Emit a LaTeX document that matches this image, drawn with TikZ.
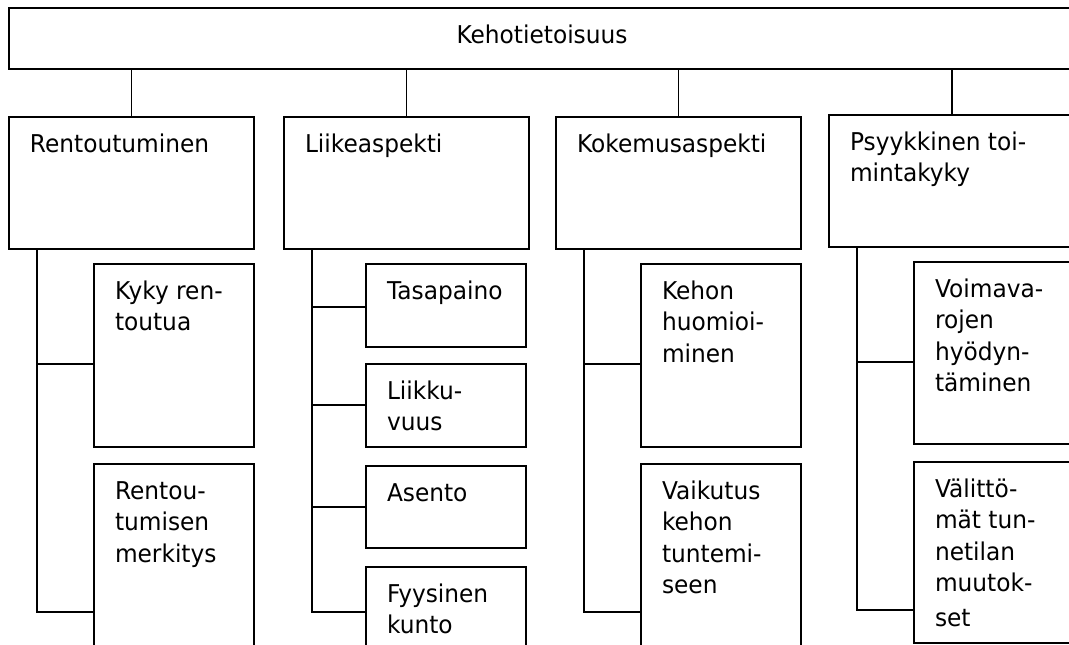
\documentclass[tikz,border=0pt]{standalone}
\usepackage{fontspec}
\setmainfont{DejaVu Sans}[FakeStretch=0.95]
\usetikzlibrary{calc}

% box content: width, height, text set top-left with a fixed first baseline
\newcommand\celltext[3]{\parbox[b][#2][t]{#1}{\raggedright\leftskip=21pt\rule{0pt}{35pt}#3}}
\newcommand\celltextc[3]{\parbox[b][#2][t]{#1}{\centering\rule{0pt}{35pt}#3}}

\tikzset{
  cellbox/.style={draw, line width=1.5pt, anchor=north west, inner sep=0pt, outer sep=0pt,
    font=\fontsize{24.5}{31.5}\selectfont},
  link/.style={draw, line width=1.5pt}
}

\begin{document}
\begin{tikzpicture}[x=1pt, y=-1pt]
\useasboundingbox (0,0) rectangle (1069,645);
\clip (0,0) rectangle (1069,645);
\fill[white] (0,0) rectangle (1069,645);

% root
\node[cellbox] (top) at (9,8) {\celltextc{1066pt}{61pt}{Kehotietoisuus}};

% first level
\node[cellbox] (r1) at (9,117)   {\celltext{245pt}{132pt}{Rentoutuminen}};
\node[cellbox] (r2) at (284,117) {\celltext{245pt}{132pt}{Liikeaspekti}};
\node[cellbox] (r3) at (556,117) {\celltext{245pt}{132pt}{Kokemusaspekti}};
\node[cellbox] (r4) at (829,115) {\celltext{246pt}{132pt}{Psyykkinen toi-\\mintakyky}};

% second level
\node[cellbox] (c11) at (94,264) {\celltext{160pt}{183pt}{Kyky ren-\\toutua}};
\node[cellbox] (c12) at (94,464) {\celltext{160pt}{200pt}{Rentou-\\tumisen\\merkitys}};

\node[cellbox] (c21) at (366,264) {\celltext{160pt}{83pt}{Tasapaino}};
\node[cellbox] (c22) at (366,364) {\celltext{160pt}{83pt}{Liikku-\\vuus}};
\node[cellbox] (c23) at (366,466) {\celltext{160pt}{82pt}{Asento}};
\node[cellbox] (c24) at (366,567) {\celltext{160pt}{100pt}{Fyysinen\\kunto}};

\node[cellbox] (c31) at (641,264) {\celltext{160pt}{183pt}{Kehon\\huomioi-\\minen}};
\node[cellbox] (c32) at (641,464) {\celltext{160pt}{200pt}{Vaikutus\\kehon\\tuntemi-\\seen}};

\node[cellbox] (c41) at (914,262) {\celltext{160pt}{182pt}{Voimava-\\rojen\\hyödyn-\\täminen}};
\node[cellbox] (c42) at (914,462) {\celltext{160pt}{181pt}{Välittö-\\mät tun-\\netilan\\muutok-\\[3pt]set}};

% root to first level
\foreach \n in {r1,r2,r3,r4}
  \draw[link] (\n.north) -- (\n.north |- top.south);

% trunks and branches
\draw[link] (r1.south west) ++(28,0) |- ([yshift=-100pt]c11.north west);
\draw[link] (r1.south west) ++(28,0) |- ([yshift=-148pt]c12.north west);

\draw[link] (r2.south west) ++(28,0) |- ([yshift=-43pt]c21.north west);
\draw[link] (r2.south west) ++(28,0) |- ([yshift=-41pt]c22.north west);
\draw[link] (r2.south west) ++(28,0) |- ([yshift=-41pt]c23.north west);
\draw[link] (r2.south west) ++(28,0) |- ([yshift=-45pt]c24.north west);

\draw[link] (r3.south west) ++(28,0) |- ([yshift=-100pt]c31.north west);
\draw[link] (r3.south west) ++(28,0) |- ([yshift=-148pt]c32.north west);

\draw[link] (r4.south west) ++(28,0) |- ([yshift=-100pt]c41.north west);
\draw[link] (r4.south west) ++(28,0) |- ([yshift=-148pt]c42.north west);
\end{tikzpicture}
\end{document}
